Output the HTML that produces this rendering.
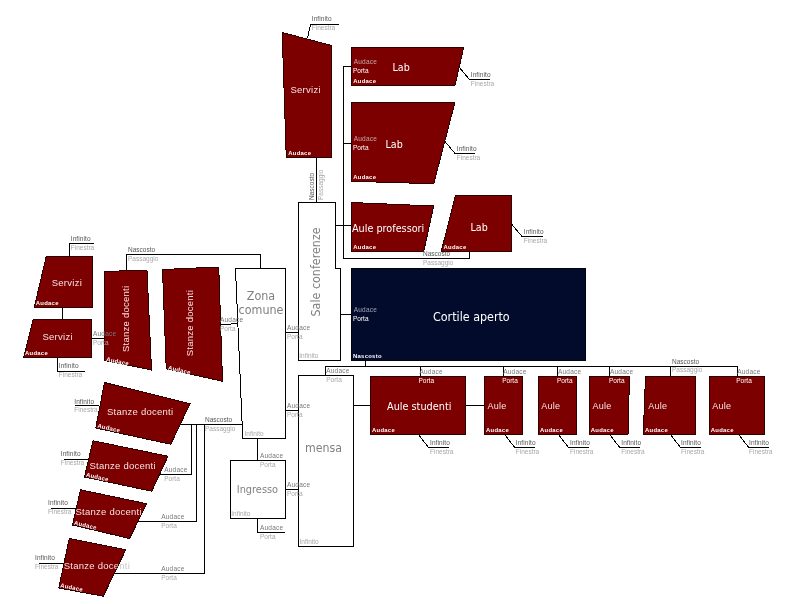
<!DOCTYPE html>
<html lang="it">
<head>
<meta charset="utf-8">
<title>Diagramma</title>
<style>
html,body{margin:0;padding:0;background:#fff;}
body{width:792px;height:604px;overflow:hidden;}
svg{display:block;font-family:"Liberation Sans",sans-serif;}
polygon,polyline{shape-rendering:crispEdges;}
svg{will-change:transform;}
.dj{font-family:"DejaVu Sans Condensed","DejaVu Sans","Liberation Sans",sans-serif;font-stretch:condensed;}
</style>
</head>
<body>
<svg width="792" height="604" viewBox="0 0 792 604">
<rect x="0" y="0" width="792" height="604" fill="#fff"/>
<polyline points="307.5,38 310.5,24.5 339,24.5" fill="none" stroke="#000" stroke-width="1"/>
<polyline points="316.5,157 316.5,203" fill="none" stroke="#000" stroke-width="1"/>
<polyline points="351,66.5 343.5,66.5 343.5,258.5 469.5,258.5 469.5,251" fill="none" stroke="#000" stroke-width="1"/>
<polyline points="343.5,143.5 351,143.5" fill="none" stroke="#000" stroke-width="1"/>
<polyline points="335.5,225.5 351,225.5" fill="none" stroke="#000" stroke-width="1"/>
<polyline points="459,67 469.5,79.5 489.5,79.5" fill="none" stroke="#000" stroke-width="1"/>
<polyline points="445,141.5 455,153.5 475,153.5" fill="none" stroke="#000" stroke-width="1"/>
<polyline points="511.5,224 522,236.5 542.5,236.5" fill="none" stroke="#000" stroke-width="1"/>
<polyline points="69.5,257 69.5,243.5 93.5,243.5" fill="none" stroke="#000" stroke-width="1"/>
<polyline points="62.5,307 62.5,319.5" fill="none" stroke="#000" stroke-width="1"/>
<polyline points="57.5,357 57.5,371.5 85,371.5" fill="none" stroke="#000" stroke-width="1"/>
<polyline points="91.5,338.5 104.5,338.5" fill="none" stroke="#000" stroke-width="1"/>
<polyline points="126.5,271 126.5,254.5 260.5,254.5 260.5,268.5" fill="none" stroke="#000" stroke-width="1"/>
<polyline points="220.5,325 237,323.5" fill="none" stroke="#000" stroke-width="1"/>
<polyline points="75,405.5 99,405.5" fill="none" stroke="#000" stroke-width="1"/>
<polyline points="63.5,459.5 89,459.5" fill="none" stroke="#000" stroke-width="1"/>
<polyline points="51,508.5 76,508.5" fill="none" stroke="#000" stroke-width="1"/>
<polyline points="38.5,563.5 64,563.5" fill="none" stroke="#000" stroke-width="1"/>
<polyline points="180,424.5 242,424.5" fill="none" stroke="#000" stroke-width="1"/>
<polyline points="160,474.5 191.5,474.5 191.5,424.5" fill="none" stroke="#000" stroke-width="1"/>
<polyline points="138,521.5 196.5,521.5 196.5,424.5" fill="none" stroke="#000" stroke-width="1"/>
<polyline points="114,573.5 204.5,573.5 204.5,424.5" fill="none" stroke="#000" stroke-width="1"/>
<polyline points="285.5,332.5 298.5,332.5" fill="none" stroke="#000" stroke-width="1"/>
<polyline points="285.5,410.5 298.5,410.5" fill="none" stroke="#000" stroke-width="1"/>
<polyline points="285.5,489.5 298.5,489.5" fill="none" stroke="#000" stroke-width="1"/>
<polyline points="257.5,438 257.5,461" fill="none" stroke="#000" stroke-width="1"/>
<polyline points="257.5,518 257.5,532.5 285,532.5" fill="none" stroke="#000" stroke-width="1"/>
<polyline points="340.5,314.5 351,314.5" fill="none" stroke="#000" stroke-width="1"/>
<polyline points="365.5,360 365.5,366.5" fill="none" stroke="#000" stroke-width="1"/>
<polyline points="325.5,375.5 325.5,366.5 737.5,366.5 737.5,376.5" fill="none" stroke="#000" stroke-width="1"/>
<polyline points="420.5,366.5 420.5,376.5" fill="none" stroke="#000" stroke-width="1"/>
<polyline points="503.5,366.5 503.5,376.5" fill="none" stroke="#000" stroke-width="1"/>
<polyline points="557.5,366.5 557.5,376.5" fill="none" stroke="#000" stroke-width="1"/>
<polyline points="609.5,366.5 609.5,376.5" fill="none" stroke="#000" stroke-width="1"/>
<polyline points="670.5,366.5 670.5,376.5" fill="none" stroke="#000" stroke-width="1"/>
<polyline points="353,405.5 371,405.5" fill="none" stroke="#000" stroke-width="1"/>
<polyline points="465,405.5 485,405.5" fill="none" stroke="#000" stroke-width="1"/>
<polyline points="418,434 428.5,447.5 449,447.5" fill="none" stroke="#000" stroke-width="1"/>
<polyline points="504.25,434 514.75,447.5 535.25,447.5" fill="none" stroke="#000" stroke-width="1"/>
<polyline points="558,434 568.5,447.5 589,447.5" fill="none" stroke="#000" stroke-width="1"/>
<polyline points="609.25,434 619.75,447.5 640.25,447.5" fill="none" stroke="#000" stroke-width="1"/>
<polyline points="670,434 680.5,447.5 701,447.5" fill="none" stroke="#000" stroke-width="1"/>
<polyline points="738.25,434 748.75,447.5 769.25,447.5" fill="none" stroke="#000" stroke-width="1"/>
<text x="63.75" y="568.75" fill="#c8c8c8" font-size="9.5" letter-spacing="0.25">Stanze docenti</text>
<text x="75.5" y="514.75" fill="#c8c8c8" font-size="9.5" letter-spacing="0.25">Stanze docenti</text>
<clipPath id="c5"><polygon points="80.5,489.75 146.75,503.75 129.5,538.5 72.5,525"/></clipPath>
<clipPath id="c6"><polygon points="69.25,538.5 125.75,549.75 103.25,596.25 58.75,588"/></clipPath>
<polygon points="282.2,32.5 331.75,45.5 331.75,157.5 286.25,157.5" fill="#7d0000" stroke="#2c0000" stroke-width="1"/>
<polygon points="351.25,47 463.75,47 455,85.5 351.25,85.5" fill="#7d0000" stroke="#2c0000" stroke-width="1"/>
<polygon points="351.25,102 455,102 433.75,183.75 351.25,181.25" fill="#7d0000" stroke="#2c0000" stroke-width="1"/>
<polygon points="351.25,202.5 433.75,206 423.75,251.25 351.25,251.25" fill="#7d0000" stroke="#2c0000" stroke-width="1"/>
<polygon points="455.5,195.25 511.75,195.25 511.75,251.5 441.25,251.5" fill="#7d0000" stroke="#2c0000" stroke-width="1"/>
<polygon points="351.25,268.25 585.75,268.25 585.75,360.5 351.25,360.5" fill="#020b2c" stroke="#00020c" stroke-width="1"/>
<polygon points="46.25,256.5 92.5,256.5 92.5,307.5 34.25,307.5" fill="#7d0000" stroke="#2c0000" stroke-width="1"/>
<polygon points="33.25,319.25 91.75,319.25 91.75,357.5 23.75,357.5" fill="#7d0000" stroke="#2c0000" stroke-width="1"/>
<polygon points="104.5,271.25 147,270.5 151.5,370 104.5,360.5" fill="#7d0000" stroke="#2c0000" stroke-width="1"/>
<polygon points="162.5,269.5 218.75,267 222.5,381.25 166.25,368.75" fill="#7d0000" stroke="#2c0000" stroke-width="1"/>
<polygon points="104.5,382.5 190,403.75 170.75,444.25 95.75,428" fill="#7d0000" stroke="#2c0000" stroke-width="1"/>
<polygon points="93,440.75 168,456.25 151.75,491.25 84.5,477" fill="#7d0000" stroke="#2c0000" stroke-width="1"/>
<polygon points="80.5,489.75 146.75,503.75 129.5,538.5 72.5,525" fill="#7d0000" stroke="#2c0000" stroke-width="1"/>
<polygon points="69.25,538.5 125.75,549.75 103.25,596.25 58.75,588" fill="#7d0000" stroke="#2c0000" stroke-width="1"/>
<polygon points="370.5,376.25 465.5,376.25 465.5,434.5 370.5,434.5" fill="#7d0000" stroke="#2c0000" stroke-width="1"/>
<polygon points="484.5,376.25 522.5,376.25 522.5,434.5 484.5,434.5" fill="#7d0000" stroke="#2c0000" stroke-width="1"/>
<polygon points="538.25,376.25 576.75,376.25 576.75,434.5 538.25,434.5" fill="#7d0000" stroke="#2c0000" stroke-width="1"/>
<polygon points="589.25,376.25 629.5,376.25 628,434.5 589.25,434.5" fill="#7d0000" stroke="#2c0000" stroke-width="1"/>
<polygon points="645.5,376.25 695.5,376.25 695.5,434.5 643.25,434.5" fill="#7d0000" stroke="#2c0000" stroke-width="1"/>
<polygon points="709,376.25 764.75,376.25 764.75,434.5 709,434.5" fill="#7d0000" stroke="#2c0000" stroke-width="1"/>
<polygon points="235.5,268.5 285.5,268.5 285.5,438.5 242.75,438.5" fill="#fff" stroke="#000" stroke-width="1"/>
<polygon points="298.5,202.5 335.5,202.5 335.5,268.5 340.5,268.5 340.5,360.5 298.5,360.5" fill="#fff" stroke="#000" stroke-width="1"/>
<polygon points="230.5,460.5 285.5,460.5 285.5,518.5 230.5,518.5" fill="#fff" stroke="#000" stroke-width="1"/>
<polygon points="298.5,375.5 353.5,375.5 353.5,546.5 298.5,546.5" fill="#fff" stroke="#000" stroke-width="1"/>
<text x="290.5" y="92.5" fill="#f6e2e2" font-size="9.5" letter-spacing="0.25">Servizi</text>
<text x="392.5" y="71" fill="#fff" font-size="10.6" class="dj">Lab</text>
<text x="385.5" y="148" fill="#fff" font-size="10.6" class="dj">Lab</text>
<text x="352" y="232" fill="#fff" font-size="10.75" class="dj">Aule professori</text>
<text x="470.5" y="231" fill="#fff" font-size="10.6" class="dj">Lab</text>
<text x="433" y="320.5" fill="#fff" font-size="12.4" class="dj">Cortile aperto</text>
<text x="51.75" y="285.75" fill="#f6e2e2" font-size="9.5" letter-spacing="0.25">Servizi</text>
<text x="42.5" y="340" fill="#f6e2e2" font-size="9.5" letter-spacing="0.25">Servizi</text>
<text x="128.5" y="352" fill="#f6e2e2" font-size="9.5" transform="rotate(-90 128.5 352)" letter-spacing="0.25">Stanze docenti</text>
<text x="192.5" y="356.25" fill="#f6e2e2" font-size="9.5" transform="rotate(-90 192.5 356.25)" letter-spacing="0.25">Stanze docenti</text>
<text x="107" y="414.5" fill="#f6e2e2" font-size="9.5" letter-spacing="0.25">Stanze docenti</text>
<text x="89.5" y="468.75" fill="#f6e2e2" font-size="9.5" letter-spacing="0.25">Stanze docenti</text>
<text x="75.5" y="514.75" fill="#f6e2e2" font-size="9.5" clip-path="url(#c5)" letter-spacing="0.25">Stanze docenti</text>
<text x="63.75" y="568.75" fill="#f6e2e2" font-size="9.5" clip-path="url(#c6)" letter-spacing="0.25">Stanze docenti</text>
<text x="387" y="409.5" fill="#fff" font-size="10.8" class="dj">Aule studenti</text>
<text x="487.5" y="408.75" fill="#f6e2e2" font-size="9" letter-spacing="0.25">Aule</text>
<text x="541.25" y="408.75" fill="#f6e2e2" font-size="9" letter-spacing="0.25">Aule</text>
<text x="592.5" y="408.75" fill="#f6e2e2" font-size="9" letter-spacing="0.25">Aule</text>
<text x="648.25" y="408.75" fill="#f6e2e2" font-size="9" letter-spacing="0.25">Aule</text>
<text x="712.25" y="408.75" fill="#f6e2e2" font-size="9" letter-spacing="0.25">Aule</text>
<text x="261" y="300" fill="#808080" font-size="12.4" class="dj" text-anchor="middle">Zona</text>
<text x="261" y="313.75" fill="#808080" font-size="12.4" class="dj" text-anchor="middle">comune</text>
<text x="319.7" y="316.5" fill="#808080" font-size="12.4" class="dj" transform="rotate(-90 319.7 316.5)">Sale conferenze</text>
<text x="236.75" y="493" fill="#808080" font-size="10.9" class="dj">Ingresso</text>
<text x="305" y="452" fill="#808080" font-size="12.25" class="dj">mensa</text>
<text x="288.25" y="155" fill="#fff" font-size="5.9" font-weight="bold" letter-spacing="0.28">Audace</text>
<text x="353.25" y="82.5" fill="#fff" font-size="5.9" font-weight="bold" letter-spacing="0.28">Audace</text>
<text x="353.25" y="178.5" fill="#fff" font-size="5.9" font-weight="bold" letter-spacing="0.28">Audace</text>
<text x="353.25" y="248.75" fill="#fff" font-size="5.9" font-weight="bold" letter-spacing="0.28">Audace</text>
<text x="443.5" y="248.5" fill="#fff" font-size="5.9" font-weight="bold" letter-spacing="0.28">Audace</text>
<text x="353" y="357.5" fill="#fff" font-size="5.9" font-weight="bold" letter-spacing="0.28">Nascosto</text>
<text x="35.75" y="304.5" fill="#fff" font-size="5.9" font-weight="bold" letter-spacing="0.28">Audace</text>
<text x="25" y="355" fill="#fff" font-size="5.9" font-weight="bold" letter-spacing="0.28">Audace</text>
<text x="106" y="361" fill="#fff" font-size="5.9" font-weight="bold" transform="rotate(11.5 106 361)" letter-spacing="0.28">Audace</text>
<text x="167.8" y="369.5" fill="#fff" font-size="5.9" font-weight="bold" transform="rotate(12.5 167.8 369.5)" letter-spacing="0.28">Audace</text>
<text x="97.2" y="427.6" fill="#fff" font-size="5.9" font-weight="bold" transform="rotate(12 97.2 427.6)" letter-spacing="0.28">Audace</text>
<text x="85.8" y="476.6" fill="#fff" font-size="5.9" font-weight="bold" transform="rotate(12 85.8 476.6)" letter-spacing="0.28">Audace</text>
<text x="73.8" y="524.6" fill="#fff" font-size="5.9" font-weight="bold" transform="rotate(13 73.8 524.6)" letter-spacing="0.28">Audace</text>
<text x="60" y="587.2" fill="#fff" font-size="5.9" font-weight="bold" transform="rotate(11 60 587.2)" letter-spacing="0.28">Audace</text>
<text x="372" y="431.5" fill="#fff" font-size="5.9" font-weight="bold" letter-spacing="0.28">Audace</text>
<text x="486" y="431.5" fill="#fff" font-size="5.9" font-weight="bold" letter-spacing="0.28">Audace</text>
<text x="540" y="431.5" fill="#fff" font-size="5.9" font-weight="bold" letter-spacing="0.28">Audace</text>
<text x="590.75" y="431.5" fill="#fff" font-size="5.9" font-weight="bold" letter-spacing="0.28">Audace</text>
<text x="645" y="431.5" fill="#fff" font-size="5.9" font-weight="bold" letter-spacing="0.28">Audace</text>
<text x="710.75" y="431.5" fill="#fff" font-size="5.9" font-weight="bold" letter-spacing="0.28">Audace</text>
<text x="311.75" y="21.2" fill="#555555" font-size="6.5" letter-spacing="0.1">Infinito</text>
<text x="311.75" y="30" fill="#a8a8a8" font-size="6.5">Finestra</text>
<text x="470.75" y="77.2" fill="#555555" font-size="6.5" letter-spacing="0.1">Infinito</text>
<text x="470.75" y="85.5" fill="#a8a8a8" font-size="6.5">Finestra</text>
<text x="456.75" y="151.45" fill="#555555" font-size="6.5" letter-spacing="0.1">Infinito</text>
<text x="456.75" y="160.25" fill="#a8a8a8" font-size="6.5">Finestra</text>
<text x="523.75" y="234.2" fill="#555555" font-size="6.5" letter-spacing="0.1">Infinito</text>
<text x="523.75" y="243" fill="#a8a8a8" font-size="6.5">Finestra</text>
<text x="423" y="255.7" fill="#555555" font-size="6.5">Nascosto</text>
<text x="423" y="264.5" fill="#a8a8a8" font-size="6.5">Passaggio</text>
<text x="70.75" y="240.95" fill="#555555" font-size="6.5" letter-spacing="0.1">Infinito</text>
<text x="70.75" y="249.75" fill="#a8a8a8" font-size="6.5">Finestra</text>
<text x="58.75" y="368.45" fill="#555555" font-size="6.5" letter-spacing="0.1">Infinito</text>
<text x="58.75" y="377.25" fill="#a8a8a8" font-size="6.5">Finestra</text>
<text x="128" y="252.2" fill="#555555" font-size="6.5">Nascosto</text>
<text x="128" y="261" fill="#a8a8a8" font-size="6.5">Passaggio</text>
<text x="74.25" y="403.5" fill="#555555" font-size="6.5" letter-spacing="0.1">Infinito</text>
<text x="74.25" y="412.0" fill="#a8a8a8" font-size="6.5">Finestra</text>
<text x="60.75" y="455.95" fill="#555555" font-size="6.5" letter-spacing="0.1">Infinito</text>
<text x="60.75" y="464.75" fill="#a8a8a8" font-size="6.5">Finestra</text>
<text x="48" y="505.2" fill="#555555" font-size="6.5" letter-spacing="0.1">Infinito</text>
<text x="48" y="514" fill="#a8a8a8" font-size="6.5">Finestra</text>
<text x="35" y="560.2" fill="#555555" font-size="6.5" letter-spacing="0.1">Infinito</text>
<text x="35" y="569" fill="#a8a8a8" font-size="6.5">Finestra</text>
<text x="205" y="421.95" fill="#555555" font-size="6.5">Nascosto</text>
<text x="205" y="430.75" fill="#a8a8a8" font-size="6.5">Passaggio</text>
<text x="672" y="363.95" fill="#555555" font-size="6.5">Nascosto</text>
<text x="672" y="372.25" fill="#a8a8a8" font-size="6.5">Passaggio</text>
<text x="430" y="445.2" fill="#555555" font-size="6.5" letter-spacing="0.1">Infinito</text>
<text x="430" y="454" fill="#a8a8a8" font-size="6.5">Finestra</text>
<text x="515.75" y="445.2" fill="#555555" font-size="6.5" letter-spacing="0.1">Infinito</text>
<text x="515.75" y="454" fill="#a8a8a8" font-size="6.5">Finestra</text>
<text x="570" y="445.2" fill="#555555" font-size="6.5" letter-spacing="0.1">Infinito</text>
<text x="570" y="454" fill="#a8a8a8" font-size="6.5">Finestra</text>
<text x="621.25" y="445.2" fill="#555555" font-size="6.5" letter-spacing="0.1">Infinito</text>
<text x="621.25" y="454" fill="#a8a8a8" font-size="6.5">Finestra</text>
<text x="681" y="445.2" fill="#555555" font-size="6.5" letter-spacing="0.1">Infinito</text>
<text x="681" y="454" fill="#a8a8a8" font-size="6.5">Finestra</text>
<text x="749" y="445.2" fill="#555555" font-size="6.5" letter-spacing="0.1">Infinito</text>
<text x="749" y="454" fill="#a8a8a8" font-size="6.5">Finestra</text>
<text x="93" y="336.45" fill="#787878" font-size="6.5" letter-spacing="0.2">Audace</text>
<text x="93" y="345.25" fill="#a8a8a8" font-size="6.5">Porta</text>
<text x="220" y="322.2" fill="#787878" font-size="6.5" letter-spacing="0.2">Audace</text>
<text x="220" y="331" fill="#a8a8a8" font-size="6.5">Porta</text>
<text x="164.25" y="472.2" fill="#787878" font-size="6.5" letter-spacing="0.2">Audace</text>
<text x="164.25" y="481" fill="#a8a8a8" font-size="6.5">Porta</text>
<text x="161.25" y="519.45" fill="#787878" font-size="6.5" letter-spacing="0.2">Audace</text>
<text x="161.25" y="528.25" fill="#a8a8a8" font-size="6.5">Porta</text>
<text x="161.25" y="571.2" fill="#787878" font-size="6.5" letter-spacing="0.2">Audace</text>
<text x="161.25" y="580" fill="#a8a8a8" font-size="6.5">Porta</text>
<text x="287" y="330.2" fill="#787878" font-size="6.5" letter-spacing="0.2">Audace</text>
<text x="287" y="339" fill="#a8a8a8" font-size="6.5">Porta</text>
<text x="287" y="408.2" fill="#787878" font-size="6.5" letter-spacing="0.2">Audace</text>
<text x="287" y="417" fill="#a8a8a8" font-size="6.5">Porta</text>
<text x="287" y="486.95" fill="#787878" font-size="6.5" letter-spacing="0.2">Audace</text>
<text x="287" y="495.75" fill="#a8a8a8" font-size="6.5">Porta</text>
<text x="260" y="457.7" fill="#787878" font-size="6.5" letter-spacing="0.2">Audace</text>
<text x="260" y="466.5" fill="#a8a8a8" font-size="6.5">Porta</text>
<text x="260" y="529.95" fill="#787878" font-size="6.5" letter-spacing="0.2">Audace</text>
<text x="260" y="538.75" fill="#a8a8a8" font-size="6.5">Porta</text>
<text x="326.25" y="372.7" fill="#787878" font-size="6.5" letter-spacing="0.2">Audace</text>
<text x="326.25" y="381.5" fill="#a8a8a8" font-size="6.5">Porta</text>
<text x="419.5" y="373.5" fill="#787878" font-size="6.5" letter-spacing="0.2">Audace</text>
<text x="418.5" y="382.5" fill="#fff" font-size="6.5">Porta</text>
<text x="503.25" y="373.5" fill="#787878" font-size="6.5" letter-spacing="0.2">Audace</text>
<text x="502.25" y="382.5" fill="#fff" font-size="6.5">Porta</text>
<text x="558" y="373.5" fill="#787878" font-size="6.5" letter-spacing="0.2">Audace</text>
<text x="557" y="382.5" fill="#fff" font-size="6.5">Porta</text>
<text x="610" y="373.5" fill="#787878" font-size="6.5" letter-spacing="0.2">Audace</text>
<text x="609" y="382.5" fill="#fff" font-size="6.5">Porta</text>
<text x="737.25" y="373.5" fill="#787878" font-size="6.5" letter-spacing="0.2">Audace</text>
<text x="736.25" y="382.5" fill="#fff" font-size="6.5">Porta</text>
<text x="353.75" y="63.5" fill="#c9a9a9" font-size="6.5" letter-spacing="0.2">Audace</text>
<text x="353" y="72.5" fill="#fff" font-size="6.5">Porta</text>
<text x="353.75" y="141" fill="#c9a9a9" font-size="6.5" letter-spacing="0.2">Audace</text>
<text x="353" y="150" fill="#fff" font-size="6.5">Porta</text>
<text x="353.75" y="312" fill="#a0a4b4" font-size="6.5" letter-spacing="0.2">Audace</text>
<text x="353" y="320.75" fill="#fff" font-size="6.5">Porta</text>
<text x="244.5" y="435.75" fill="#a8a8a8" font-size="6.5">Infinito</text>
<text x="299.25" y="357.5" fill="#a8a8a8" font-size="6.5">Infinito</text>
<text x="231.25" y="516.25" fill="#a8a8a8" font-size="6.5">Infinito</text>
<text x="299.5" y="543.75" fill="#a8a8a8" font-size="6.5">Infinito</text>
<text x="313.8" y="200" fill="#555555" font-size="6.5" transform="rotate(-90 313.8 200)">Nascosto</text>
<text x="323" y="200" fill="#a8a8a8" font-size="6.5" transform="rotate(-90 323 200)">Passaggio</text>
</svg>
</body>
</html>
